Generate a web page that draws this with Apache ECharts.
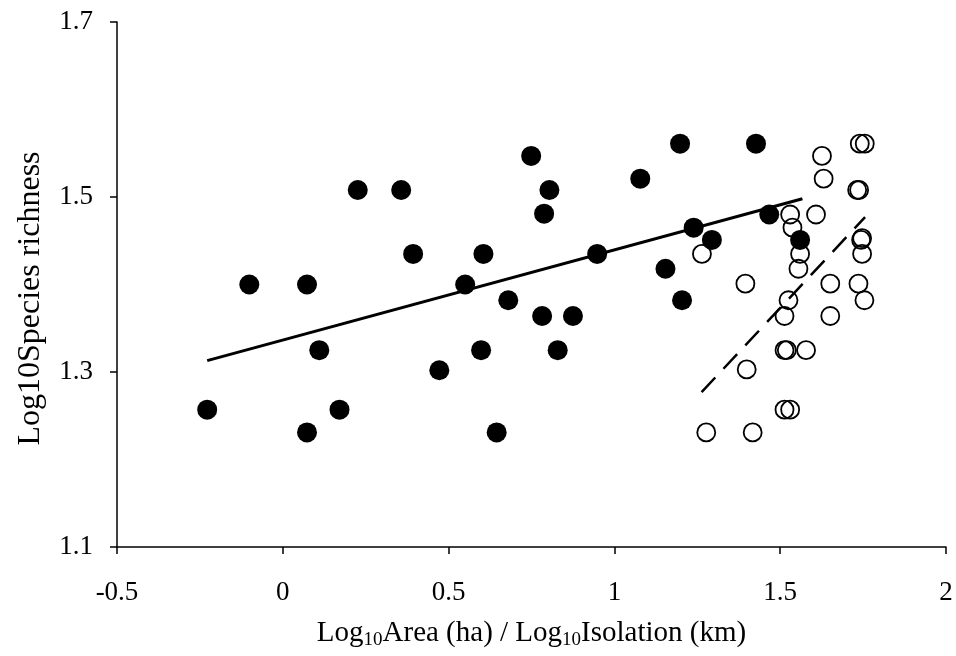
<!DOCTYPE html>
<html>
<head>
<meta charset="utf-8">
<script src="https://cdn.jsdelivr.net/npm/echarts@6/dist/echarts.min.js"></script>
<style>
    html, body { margin: 0; padding: 0; background: #fff; }
    #chart { width: 956px; height: 656px; }
</style>
</head>
<body>
<div id="chart"></div>
<script>
// filled circles: log10 area vs log10 species richness
const areaPoints = [
    [-0.228, 1.257], [-0.101, 1.400], [0.073, 1.400], [0.073, 1.231], [0.110, 1.325],
    [0.171, 1.257], [0.226, 1.508], [0.357, 1.508], [0.393, 1.435], [0.472, 1.302],
    [0.550, 1.400], [0.598, 1.325], [0.605, 1.435], [0.645, 1.231], [0.680, 1.382],
    [0.749, 1.547], [0.782, 1.364], [0.788, 1.481], [0.804, 1.508], [0.829, 1.325],
    [0.875, 1.364], [0.948, 1.435], [1.078, 1.521], [1.154, 1.418], [1.198, 1.561],
    [1.204, 1.382], [1.239, 1.465], [1.294, 1.451], [1.427, 1.561], [1.467, 1.480],
    [1.560, 1.451]
];
// open circles: log10 isolation vs log10 species richness
const isolationPoints = [
    [1.264, 1.435], [1.277, 1.231], [1.395, 1.401], [1.399, 1.303], [1.417, 1.231],
    [1.513, 1.364], [1.513, 1.325], [1.520, 1.325], [1.513, 1.257], [1.530, 1.257],
    [1.525, 1.382], [1.530, 1.480], [1.537, 1.465], [1.555, 1.418], [1.560, 1.435],
    [1.578, 1.325], [1.608, 1.480], [1.626, 1.547], [1.631, 1.521], [1.651, 1.401],
    [1.651, 1.364], [1.732, 1.508], [1.738, 1.508], [1.736, 1.401], [1.740, 1.561],
    [1.755, 1.561], [1.744, 1.451], [1.747, 1.453], [1.747, 1.435], [1.754, 1.382]
];
const areaFit = [[-0.228, 1.313], [1.567, 1.498]];
const isolationFit = [[1.263, 1.277], [1.756, 1.477]];

const xTicks = [-0.5, 2, 0.5];   // min, max, interval
const yTicks = [1.1, 1.7, 0.2];

const font = '"Liberation Serif", "Times New Roman", serif';

var chart = echarts.init(document.getElementById('chart'), null, {renderer: 'canvas'});
chart.setOption({
    animation: false,
    backgroundColor: '#fff',
    grid: {
        left: 117,
        right: 10,
        top: 22,
        bottom: 109
    },
    xAxis: {
        type: 'value',
        min: xTicks[0],
        max: xTicks[1],
        interval: xTicks[2],
        name: '{t|Log}{s|10}{t|Area (ha) / Log}{s|10}{t|Isolation (km)}',
        nameLocation: 'middle',
        nameGap: 70,
        nameTextStyle: {
            rich: {
                t: {fontFamily: font, fontSize: 29, color: '#000'},
                s: {fontFamily: font, fontSize: 19, color: '#000', verticalAlign: 'bottom', padding: [14, 0, 0, 0]}
            }
        },
        axisLine: {onZero: false, lineStyle: {color: '#000', width: 1.5}},
        axisTick: {show: true, inside: false, length: 7, lineStyle: {color: '#000', width: 1.5}},
        axisLabel: {fontFamily: font, fontSize: 27, color: '#000', margin: 32},
        splitLine: {show: false}
    },
    yAxis: {
        type: 'value',
        min: yTicks[0],
        max: yTicks[1],
        interval: yTicks[2],
        name: 'Log10Species richness',
        nameLocation: 'middle',
        nameGap: 70,
        nameTextStyle: {fontFamily: font, fontSize: 32, color: '#000', padding: [0, 28, 0, 0]},
        axisLine: {show: true, onZero: false, lineStyle: {color: '#000', width: 1.5}},
        axisTick: {show: true, inside: false, length: 7, lineStyle: {color: '#000', width: 1.5}},
        axisLabel: {
            fontFamily: font, fontSize: 27, color: '#000', margin: 24,
            formatter: function (v) { return v.toFixed(1); }
        },
        splitLine: {show: false}
    },
    series: [
        {
            name: 'isolation',
            type: 'scatter',
            data: isolationPoints,
            symbol: 'circle',
            symbolSize: 18,
            itemStyle: {color: 'rgba(255,255,255,0)', borderColor: '#000', borderWidth: 1.8, opacity: 1},
            z: 2
        },
        {
            name: 'area',
            type: 'scatter',
            data: areaPoints,
            symbol: 'circle',
            symbolSize: 20,
            itemStyle: {color: '#000', opacity: 1},
            z: 3
        },
        {
            name: 'area fit',
            type: 'line',
            data: areaFit,
            symbol: 'none',
            lineStyle: {color: '#000', width: 3},
            z: 4
        },
        {
            name: 'isolation fit',
            type: 'line',
            data: isolationFit,
            symbol: 'none',
            lineStyle: {color: '#000', width: 2.5, type: [20, 12]},
            z: 4
        }
    ]
});
</script>
</body>
</html>
